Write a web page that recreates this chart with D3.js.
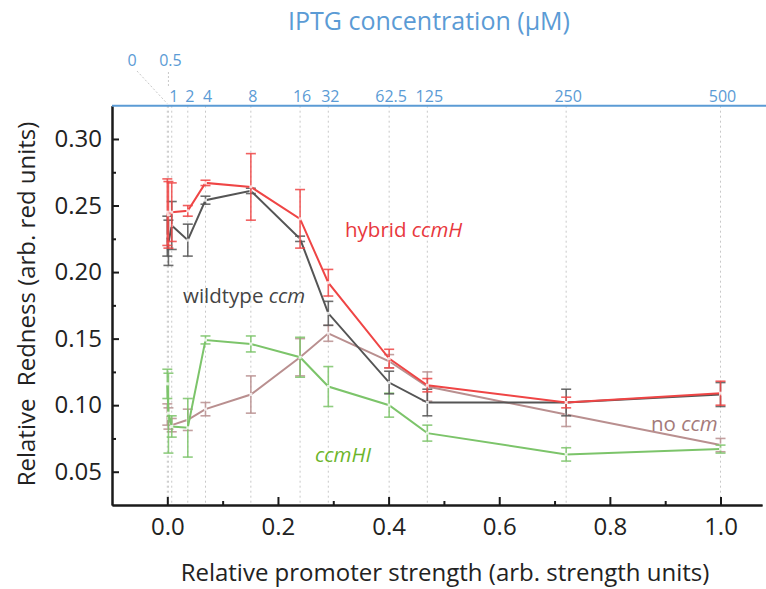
<!DOCTYPE html>
<html>
<head>
<meta charset="utf-8">
<script src="https://cdn.jsdelivr.net/npm/d3@7"></script>
<style>
  body { margin: 0; background: #fff; }
  svg text { font-family: "Open Sans", sans-serif; }
</style>
</head>
<body>
<div id="chart"></div>
<script>
// IPTG concentration labels (top axis) and relative promoter strength (bottom axis)
const iptgLabels = ["0", "0.5", "1", "2", "4", "8", "16", "32", "62.5", "125", "250", "500"];
const strength = [0, 0.002, 0.008, 0.037, 0.069, 0.151, 0.24, 0.291, 0.401, 0.47, 0.721, 1.0];

// relative redness per series, with error bar half-widths
const hybrid = [0.245, 0.243, 0.245, 0.246, 0.267, 0.264, 0.240, 0.192, 0.135, 0.115, 0.102, 0.109];
const hybridErr = [0.025, 0.025, 0.022, 0.004, 0.002, 0.025, 0.022, 0.010, 0.007, 0.005, 0.004, 0.009];

const wildtype = [0.227, 0.222, 0.235, 0.224, 0.254, 0.261, 0.225, 0.169, 0.117, 0.102, 0.102, 0.108];
const wildtypeErr = [0.015, 0.017, 0.018, 0.012, 0.003, 0.002, 0.002, 0.009, 0.0085, 0.010, 0.010, 0.009];

const noCcm = [0.093, 0.090, 0.085, 0.089, 0.097, 0.108, 0.136, 0.154, 0.133, 0.114, 0.093, 0.070];
const noCcmErr = [0.008, 0.008, 0.005, 0.008, 0.005, 0.014, 0.014, 0.006, 0.005, 0.011, 0.009, 0.005];

const ccmHI = [0.116, 0.094, 0.084, 0.083, 0.149, 0.146, 0.136, 0.114, 0.100, 0.079, 0.063, 0.067];
const ccmHIErr = [0.011, 0.030, 0.008, 0.022, 0.003, 0.006, 0.015, 0.015, 0.009, 0.006, 0.005, 0.003];

const xMajor = [0, 0.2, 0.4, 0.6, 0.8, 1.0];
const xMinor = [0.1, 0.3, 0.5, 0.7, 0.9];
const yMajor = [0.05, 0.10, 0.15, 0.20, 0.25, 0.30];
const yMinor = [0.075, 0.125, 0.175, 0.225, 0.275];

const series = [
    { name: "noCcm", values: noCcm, err: noCcmErr, color: "#b98f8f" },
    { name: "ccmHI", values: ccmHI, err: ccmHIErr, color: "#7cc46a" },
    { name: "wildtype", values: wildtype, err: wildtypeErr, color: "#555555" },
    { name: "hybrid", values: hybrid, err: hybridErr, color: "#ef4545" }
];

const width = 766, height = 589;
const blue = "#5b9bd5";

const svg = d3.select("#chart").append("svg")
    .attr("width", width)
    .attr("height", height);

const x = d3.scaleLinear().domain([-0.1, 1.075]).range([112, 762]);
const y = d3.scaleLinear().domain([0.025, 0.325]).range([505, 105.7]);

// dotted vertical guides at each IPTG level
svg.append("g")
    .selectAll("line")
    .data(strength)
    .enter().append("line")
    .attr("x1", d => x(d))
    .attr("x2", d => x(d))
    .attr("y1", y(0.325))
    .attr("y2", y(0.025))
    .attr("stroke", "#c8c8c8")
    .attr("stroke-width", 1)
    .attr("stroke-dasharray", "2,3");

// axes
svg.append("g")
    .attr("transform", `translate(${x(-0.1)},0)`)
    .call(d3.axisLeft(y).tickValues(yMajor).tickFormat(d3.format(".2f"))
        .tickSize(-7).tickSizeOuter(0).tickPadding(10));

svg.append("g")
    .attr("transform", `translate(${x(-0.1)},0)`)
    .call(d3.axisLeft(y).tickValues(yMinor).tickFormat("").tickSize(-4).tickSizeOuter(0));

const xAxis = svg.append("g")
    .attr("transform", `translate(0,${y(0.025)})`)
    .call(d3.axisBottom(x).tickValues(xMajor).tickFormat(d3.format(".1f"))
        .tickSize(-8).tickSizeOuter(0).tickPadding(10));

svg.append("g")
    .attr("transform", `translate(0,${y(0.025)})`)
    .call(d3.axisBottom(x).tickValues(xMinor).tickFormat("").tickSize(-4).tickSizeOuter(0));

svg.selectAll(".domain, .tick line")
    .attr("stroke", "#1a1a1a")
    .attr("stroke-width", 2);

svg.selectAll(".tick text")
    .attr("fill", "#222")
    .style("font-size", "24px");

xAxis.selectAll(".tick text").attr("dy", "0.85em");

// top blue axis for IPTG
svg.append("line")
    .attr("x1", x(-0.1))
    .attr("x2", width)
    .attr("y1", y(0.325))
    .attr("y2", y(0.325))
    .attr("stroke", blue)
    .attr("stroke-width", 2);

const raised = ["0", "0.5"];
const topLabels = iptgLabels.map((label, i) => ({ label, pos: strength[i] }));

svg.append("g")
    .selectAll("text")
    .data(topLabels.filter(d => !raised.includes(d.label)))
    .enter().append("text")
    .attr("x", d => x(d.pos) + 2)
    .attr("y", 102)
    .attr("text-anchor", "middle")
    .attr("fill", blue)
    .style("font-size", "16px")
    .text(d => d.label);

// the two smallest concentrations sit above, with dashed leaders
const zeroLabel = topLabels[0], halfLabel = topLabels[1];
svg.append("text")
    .attr("x", 132).attr("y", 66)
    .attr("text-anchor", "middle")
    .attr("fill", blue)
    .style("font-size", "16px")
    .text(zeroLabel.label);
svg.append("line")
    .attr("x1", 137).attr("y1", 71)
    .attr("x2", x(zeroLabel.pos)).attr("y2", y(0.325) - 2)
    .attr("stroke", "#c8c8c8")
    .attr("stroke-dasharray", "2,2");

svg.append("text")
    .attr("x", x(halfLabel.pos) + 2).attr("y", 66)
    .attr("text-anchor", "middle")
    .attr("fill", blue)
    .style("font-size", "16px")
    .text(halfLabel.label);
svg.append("line")
    .attr("x1", x(halfLabel.pos)).attr("y1", 72)
    .attr("x2", x(halfLabel.pos)).attr("y2", 88)
    .attr("stroke", "#c8c8c8")
    .attr("stroke-dasharray", "2,2");

svg.append("text")
    .attr("x", 429).attr("y", 30)
    .attr("text-anchor", "middle")
    .attr("fill", blue)
    .style("font-size", "25px")
    .text("IPTG concentration (µM)");

// series: error bars, lines, markers
const line = d3.line()
    .x(d => x(d.x))
    .y(d => y(d.y));

series.forEach(s => {
    const pts = s.values.map((v, i) => ({ x: strength[i], y: v, e: s.err[i] }));
    const g = svg.append("g");

    const bars = g.selectAll(".bar")
        .data(pts)
        .enter().append("g")
        .attr("stroke", s.color)
        .attr("stroke-opacity", 0.85)
        .attr("stroke-width", 1.6);

    bars.append("line")
        .attr("x1", d => x(d.x)).attr("x2", d => x(d.x))
        .attr("y1", d => y(d.y + d.e)).attr("y2", d => y(d.y - d.e));
    bars.append("line")
        .attr("x1", d => x(d.x) - 5).attr("x2", d => x(d.x) + 5)
        .attr("y1", d => y(d.y + d.e)).attr("y2", d => y(d.y + d.e));
    bars.append("line")
        .attr("x1", d => x(d.x) - 5).attr("x2", d => x(d.x) + 5)
        .attr("y1", d => y(d.y - d.e)).attr("y2", d => y(d.y - d.e));

    g.append("path")
        .datum(pts)
        .attr("d", line)
        .attr("fill", "none")
        .attr("stroke", s.color)
        .attr("stroke-width", 2);

    g.selectAll("rect")
        .data(pts)
        .enter().append("rect")
        .attr("x", d => x(d.x) - 1.5)
        .attr("y", d => y(d.y) - 1.5)
        .attr("width", 3)
        .attr("height", 3)
        .attr("fill", "#fff")
        .attr("fill-opacity", 0.8);
});

// series labels
const addLabel = (xPos, yPos, plain, italic, color) => {
    const t = svg.append("text")
        .attr("x", xPos).attr("y", yPos)
        .attr("fill", color)
        .style("font-size", "20.5px");
    if (plain) t.append("tspan").text(plain);
    t.append("tspan").style("font-style", "italic").text(italic);
};
addLabel(345, 237, "hybrid ", "ccmH", "#e8383d");
addLabel(183, 303, "wildtype ", "ccm", "#444444");
addLabel(651, 431, "no ", "ccm", "#a47a7a");
addLabel(315, 462, null, "ccmHI", "#6cb52b");

// axis titles
svg.append("text")
    .attr("x", 445).attr("y", 581)
    .attr("text-anchor", "middle")
    .attr("fill", "#222")
    .style("font-size", "24px")
    .text("Relative promoter strength (arb. strength units)");

svg.append("text")
    .attr("transform", "translate(35,304) rotate(-90)")
    .attr("text-anchor", "middle")
    .attr("fill", "#222")
    .style("font-size", "24px")
    .style("white-space", "pre")
    .text("Relative  Redness (arb. red units)");
</script>
</body>
</html>
